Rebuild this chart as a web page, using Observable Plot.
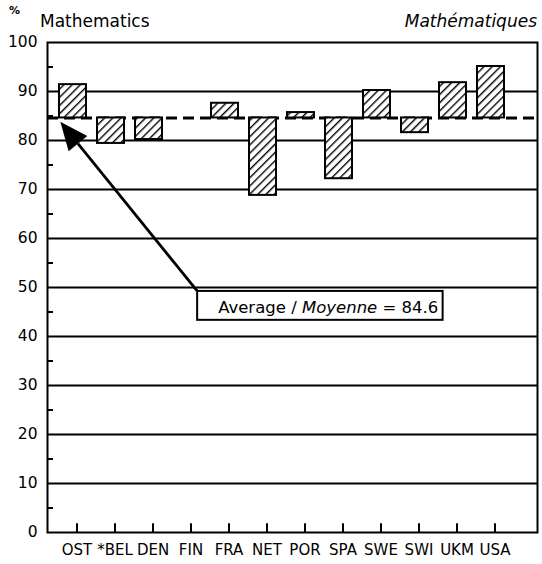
<!DOCTYPE html>
<html>
<head>
<meta charset="utf-8">
<script src="https://cdn.jsdelivr.net/npm/d3@7"></script>
<script src="https://cdn.jsdelivr.net/npm/@observablehq/plot@0.6"></script>
<style>
  html, body { margin: 0; padding: 0; background: #fff; }
  #chart { width: 542px; height: 564px; }
  svg { display: block; }
</style>
</head>
<body>
<div id="chart"></div>
<script>
// ---- data ----
const countries = ["OST", "*BEL", "DEN", "FIN", "FRA", "NET", "POR", "SPA", "SWE", "SWI", "UKM", "USA"];
const scores = [91.4, 79.4, 80.2, null, 87.6, 68.8, 85.7, 72.2, 90.2, 81.6, 91.8, 95.1];
const average = 84.6;
const yTickValues = [0, 10, 20, 30, 40, 50, 60, 70, 80, 90, 100];
const gridValues = [10, 20, 30, 40, 50, 60, 70, 80, 90];
const minorTickValues = [5, 15, 25, 35, 45, 55, 65, 75, 85, 95];
const titleLeft = "Mathematics";
const titleRight = "Mathématiques";
const unitLabel = "%";
const avgLabelParts = [["Average / ", "normal"], ["Moyenne", "italic"], [" = 84.6", "normal"]];
// annotation anchors (category + fraction of a step, value)
const arrowTip = {country: "OST", offset: -0.32, value: 83.7};
const arrowTail = {country: "FIN", offset: 0.28, value: 49.2};
const boxRight = {country: "SWI", offset: 0.74, value: 43.3};

const rows = countries.map((c, i) => ({country: c, value: scores[i]})).filter(d => d.value != null);

const FONT = "'DejaVu Sans', 'Liberation Sans', sans-serif";
const W = 542, H = 564;

const chart = Plot.plot({
  width: W,
  height: H,
  marginTop: 42,
  marginBottom: 32,
  marginLeft: 47,
  marginRight: 5,
  style: {fontFamily: FONT, fontSize: "14px", color: "black", background: "white"},
  x: {type: "band", domain: countries, range: [53, 510], paddingInner: 0.3, paddingOuter: 0.15, label: null},
  y: {domain: [0, 100], label: null},
  marks: [
    Plot.ruleY(gridValues, {stroke: "black", strokeWidth: 2}),
    Plot.ruleY([average], {stroke: "black", strokeWidth: 3, strokeDasharray: "11,6"}),
    Plot.barY(rows, {
      x: "country",
      y1: () => average,
      y2: "value",
      fill: "url(#hatch)",
      stroke: "black",
      strokeWidth: 2
    }),
    Plot.tickY(minorTickValues, {y: d => d, stroke: "black", strokeWidth: 2, insetRight: 484}),
    Plot.ruleX(countries, {x: d => d, y1: 0, y2: 1.8, dx: 4, stroke: "black", strokeWidth: 2}),
    Plot.frame({stroke: "black", strokeWidth: 2}),
    Plot.axisY({ticks: yTickValues, tickSize: 0, tickPadding: 10, fontSize: 15.5, fontStretch: "condensed", tickFormat: d => String(d)}),
    Plot.axisX({tickSize: 0, tickPadding: 12, dx: 4, fontSize: 15, fontStretch: "condensed"})
  ]
});

document.getElementById("chart").appendChild(chart);

const svg = d3.select(chart);

// hatch pattern
const defs = svg.insert("defs", ":first-child");
const pat = defs.append("pattern")
  .attr("id", "hatch")
  .attr("patternUnits", "userSpaceOnUse")
  .attr("width", 5.8)
  .attr("height", 5.8)
  .attr("patternTransform", "rotate(45)");
pat.append("rect").attr("width", 5.8).attr("height", 5.8).attr("fill", "white");
pat.append("line")
  .attr("x1", 0).attr("y1", 0).attr("x2", 0).attr("y2", 5.8)
  .attr("stroke", "black").attr("stroke-width", 2.8);

// scales from the plot
const xs = chart.scale("x");
const ys = chart.scale("y");
const px = a => xs.apply(a.country) + xs.bandwidth / 2 + a.offset * xs.step;
const py = v => ys.apply(v);

// annotation: box + arrow
const tipX = px(arrowTip), tipY = py(arrowTip.value);
const tailX = px(arrowTail), tailY = py(arrowTail.value);
const rightX = px(boxRight), bottomY = py(boxRight.value);

const g = svg.append("g").attr("text-anchor", "start");
g.append("rect")
  .attr("x", tailX).attr("y", tailY)
  .attr("width", rightX - tailX).attr("height", bottomY - tailY)
  .attr("fill", "white").attr("stroke", "black").attr("stroke-width", 2);

const t = g.append("text")
  .attr("x", tailX + 21).attr("y", bottomY - 7)
  .attr("text-anchor", "start")
  .attr("font-family", FONT).attr("font-size", 16.5).attr("fill", "black");
avgLabelParts.forEach(([s, st]) => t.append("tspan").attr("font-style", st).text(s));

// arrow shaft and filled head
const ang = Math.atan2(tipY - tailY, tipX - tailX);
const headLen = 28, headHalf = 12;
const bx = tipX - headLen * Math.cos(ang), by = tipY - headLen * Math.sin(ang);
g.append("line")
  .attr("x1", tailX).attr("y1", tailY).attr("x2", bx).attr("y2", by)
  .attr("stroke", "black").attr("stroke-width", 2.8);
g.append("path")
  .attr("d", `M${tipX},${tipY}L${bx + headHalf * Math.sin(ang)},${by - headHalf * Math.cos(ang)}L${bx - headHalf * Math.sin(ang)},${by + headHalf * Math.cos(ang)}Z`)
  .attr("fill", "black");

// titles
const tg = svg.append("g").attr("text-anchor", "start").attr("font-family", FONT).attr("fill", "black");
tg.append("text").attr("x", 9).attr("y", 14).attr("text-anchor", "start")
  .attr("font-size", 11).attr("font-weight", "bold").text(unitLabel);
tg.append("text").attr("x", 40).attr("y", 27).attr("text-anchor", "start")
  .attr("font-size", 17).text(titleLeft);
tg.append("text").attr("x", 537).attr("y", 27).attr("text-anchor", "end")
  .attr("font-size", 17).attr("font-style", "italic").text(titleRight);
</script>
</body>
</html>
